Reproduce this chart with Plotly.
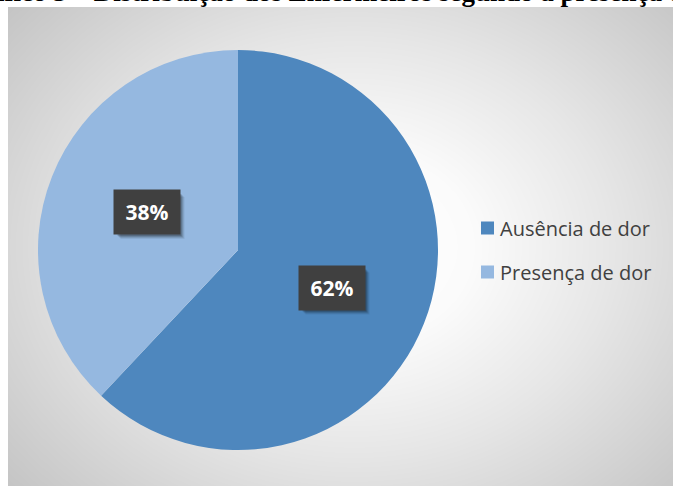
import numpy as np
import plotly.graph_objects as go

# Data
categories = ["Ausência de dor", "Presença de dor"]
values = [62, 38]
colors = ["#4E87BE", "#95B8E0"]
title_text = "Gráfico 5 – Distribuição dos Enfermeiros segundo a presença de dor"

W, H = 673, 486


def px(x):
    return x / W


def py(y):
    return 1 - y / H


# Chart-area background: soft radial gradient (white centre to grey edges)
n = 160
gx = np.linspace(0, 1, n)
gy = np.linspace(0, 1, n)
X, Y = np.meshgrid(gx, gy)
cx, cy = 0.52, 0.5
dist = np.sqrt(((X - cx) / 0.5) ** 2 + ((Y - cy) / 0.56) ** 2) / np.sqrt(2)
bg = go.Heatmap(
    z=dist, x=gx, y=gy, zsmooth="best", showscale=False, hoverinfo="skip",
    zmin=0, zmax=1,
    colorscale=[[0, "#ffffff"], [0.25, "#fbfbfb"], [0.55, "#e6e6e6"],
                [0.75, "#d6d6d6"], [1, "#c2c2c2"]],
    xaxis="x", yaxis="y",
)

pie = go.Pie(
    labels=categories, values=values, sort=False, direction="clockwise",
    rotation=0, marker=dict(colors=colors, line=dict(width=0)),
    textinfo="none", hoverinfo="label+percent", showlegend=False,
    domain=dict(x=[px(38), px(438)], y=[py(450), py(50)]),
)

fig = go.Figure([bg, pie])

annotations = []
shapes = []

# Title (partly above the visible page)
annotations.append(dict(
    text=f"<b>{title_text}</b>", x=px(-44), y=1 + 8 / H, xref="paper", yref="paper",
    xanchor="left", yanchor="middle", showarrow=False,
    font=dict(family="Liberation Serif", size=27, color="#000000"),
))

# Percentage labels in dark boxes with a soft drop shadow
total = sum(values)
label_centers = [(331.5, 287.5), (146.5, 212)]
bw, bh = 64, 42
for v, (lx, ly) in zip(values, label_centers):
    txt = f"{round(100 * v / total)}%"
    for dx, dy, a in [(6, 6, 0.07), (5, 5, 0.10), (4, 4, 0.14), (3, 3, 0.18)]:
        shapes.append(dict(
            type="rect", xref="paper", yref="paper", layer="above",
            x0=px(lx - bw / 2 + dx), x1=px(lx + bw / 2 + dx),
            y0=py(ly + bh / 2 + dy), y1=py(ly - bh / 2 + dy),
            fillcolor=f"rgba(0,0,0,{a})", line=dict(width=0),
        ))
    annotations.append(dict(
        text=f"<b>{txt}</b>", x=px(lx), y=py(ly), xref="paper", yref="paper",
        xanchor="center", yanchor="middle",
        showarrow=False, width=bw, height=bh, bgcolor="#404040",
        font=dict(family="Open Sans", size=21, color="#ffffff"),
    ))

# Legend
legend_rows = [228, 272]
for cat, col, ry in zip(categories, colors, legend_rows):
    shapes.append(dict(
        type="rect", xref="paper", yref="paper",
        x0=px(481), x1=px(494), y0=py(ry + 6.5), y1=py(ry - 6.5),
        fillcolor=col, line=dict(width=0),
    ))
    annotations.append(dict(
        text=cat, x=px(498), y=py(ry), xref="paper", yref="paper",
        xanchor="left", yanchor="middle", showarrow=False,
        font=dict(family="Open Sans", size=20, color="#404040"),
    ))

fig.update_layout(
    width=W, height=H, margin=dict(l=0, r=0, t=0, b=0),
    paper_bgcolor="#ffffff", plot_bgcolor="rgba(0,0,0,0)",
    xaxis=dict(domain=[px(8), 1], range=[0, 1], visible=False, fixedrange=True),
    yaxis=dict(domain=[0, py(7)], range=[0, 1], visible=False, fixedrange=True),
    annotations=annotations, shapes=shapes, showlegend=False,
)

fig.write_html("out.html")
